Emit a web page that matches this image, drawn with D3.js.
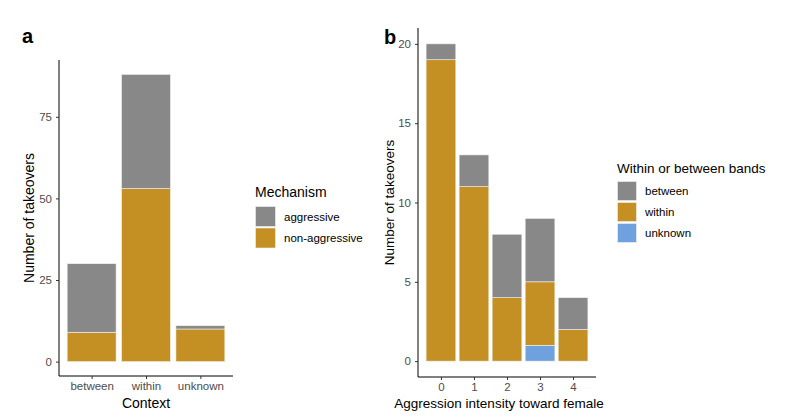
<!DOCTYPE html>
<html><head><meta charset="utf-8">
<script src="https://cdn.jsdelivr.net/npm/d3@7"></script>
<style>body{margin:0;background:#fff}svg{display:block;font-family:"Liberation Sans",Arial,sans-serif}</style>
</head><body><svg id="c" width="800" height="418"></svg>
<script>
// Panel a data
const contexts = ["between", "within", "unknown"];
const mechanisms = ["non-aggressive", "aggressive"]; // stack order bottom->top
const nonAggressive = [9, 53, 10];
const aggressive = [21, 35, 1];
const ticksA = [0, 25, 50, 75];

// Panel b data
const intensities = [0, 1, 2, 3, 4];
const bandTypes = ["unknown", "within", "between"]; // bottom->top
const unknownB = [0, 0, 0, 1, 0];
const withinB = [19, 11, 4, 4, 2];
const betweenB = [1, 2, 4, 4, 2];
const ticksB = [0, 5, 10, 15, 20];

const colors = {"aggressive":"#888888","non-aggressive":"#C49023","between":"#888888","within":"#C49023","unknown":"#6FA1DE"};
const svg = d3.select("#c");
const tickCol = "#4D4D4D";

function styleAxis(g){
  g.selectAll(".domain").attr("stroke","#000").attr("stroke-width",1);
  g.selectAll(".tick line").attr("stroke","#333").attr("stroke-width",1);
  g.selectAll(".tick text").attr("fill",tickCol).style("font-size","11.5px").style("font-family","Liberation Sans, Arial, sans-serif");
}

// ---------- Panel A ----------
(function(){
  const left=59, right=233, top=60, bottom=376;
  const rows = contexts.map((c,i)=>({ctx:c,"non-aggressive":nonAggressive[i],"aggressive":aggressive[i]}));
  const stack = d3.stack().keys(mechanisms)(rows);
  const maxV = d3.max(rows,d=>d["non-aggressive"]+d["aggressive"]);
  const y = d3.scaleLinear().domain([-0.05*maxV, maxV*1.05]).range([bottom, top]);
  const xc = d3.scaleLinear().domain([0.4, contexts.length+0.6]).range([left, right]);
  const bw = (xc(1)-xc(0))*0.9;
  const g = svg.append("g");
  stack.forEach(layer=>{
    g.selectAll(null).data(layer).enter().append("rect")
      .attr("x",(d,i)=>xc(i+1)-bw/2).attr("width",bw)
      .attr("y",d=>y(d[1])).attr("height",d=>y(d[0])-y(d[1]))
      .attr("fill",colors[layer.key]).attr("stroke","#f2f2f2").attr("stroke-width",0.6);
  });
  const ya = svg.append("g").attr("transform",`translate(${left},0)`)
    .call(d3.axisLeft(y).tickValues(ticksA).tickSize(3).tickPadding(4).tickSizeOuter(0));
  ya.select(".domain").attr("d",`M0,${top}V${bottom}`);
  styleAxis(ya);
  const xa = svg.append("g").attr("transform",`translate(0,${bottom})`)
    .call(d3.axisBottom(xc).tickValues([1,2,3]).tickFormat((d)=>contexts[d-1]).tickSize(3).tickPadding(3).tickSizeOuter(0));
  xa.select(".domain").attr("d",`M${left},0H${right}`);
  styleAxis(xa);
  svg.append("text").attr("transform",`translate(34,${(top+bottom)/2}) rotate(-90)`).attr("text-anchor","middle")
    .style("font-size","14px").text("Number of takeovers");
  svg.append("text").attr("x",(left+right)/2).attr("y",408).attr("text-anchor","middle").style("font-size","14px").text("Context");
  svg.append("text").attr("x",22).attr("y",43).style("font-size","20px").style("font-weight","bold").text("a");
  // legend
  const lg = svg.append("g").attr("transform","translate(255,197)");
  lg.append("text").attr("x",0).attr("y",0).style("font-size","14px").text("Mechanism");
  const legItems = ["aggressive","non-aggressive"];
  legItems.forEach((k,i)=>{
    lg.append("rect").attr("x",0.5).attr("y",9.5+i*21.5).attr("width",20).attr("height",20).attr("fill",colors[k]).attr("stroke","#f2f2f2").attr("stroke-width",0.6);
    lg.append("text").attr("x",29).attr("y",23.5+i*21.5).style("font-size","11.5px").text(k);
  });
})();

// ---------- Panel B ----------
(function(){
  const left=418, right=596, top=28, bottom=377;
  const rows = intensities.map((v,i)=>({k:v,unknown:unknownB[i],within:withinB[i],between:betweenB[i]}));
  const stack = d3.stack().keys(bandTypes)(rows);
  const maxV = d3.max(rows,d=>d.unknown+d.within+d.between);
  const y = d3.scaleLinear().domain([-0.05*maxV, maxV*1.05]).range([bottom, top]);
  const lo = d3.min(intensities)-0.45, hi = d3.max(intensities)+0.45, ex=(hi-lo)*0.05;
  const x = d3.scaleLinear().domain([lo-ex, hi+ex]).range([left, right]);
  const bw = (x(1)-x(0))*0.9;
  const g = svg.append("g");
  stack.forEach(layer=>{
    g.selectAll(null).data(layer.filter(d=>d[1]>d[0])).enter().append("rect")
      .attr("x",d=>x(d.data.k)-bw/2).attr("width",bw)
      .attr("y",d=>y(d[1])).attr("height",d=>y(d[0])-y(d[1]))
      .attr("fill",colors[layer.key]).attr("stroke","#f2f2f2").attr("stroke-width",0.6);
  });
  const ya = svg.append("g").attr("transform",`translate(${left},0)`)
    .call(d3.axisLeft(y).tickValues(ticksB).tickSize(3).tickPadding(4).tickSizeOuter(0));
  ya.select(".domain").attr("d",`M0,${top}V${bottom}`);
  styleAxis(ya);
  const xa = svg.append("g").attr("transform",`translate(0,${bottom})`)
    .call(d3.axisBottom(x).tickValues(intensities).tickFormat(d3.format("d")).tickSize(3).tickPadding(3).tickSizeOuter(0));
  xa.select(".domain").attr("d",`M${left},0H${right}`);
  styleAxis(xa);
  svg.append("text").attr("transform",`translate(394,${(top+bottom)/2}) rotate(-90)`).attr("text-anchor","middle")
    .style("font-size","13.5px").text("Number of takeovers");
  svg.append("text").attr("x",(left+right)/2-8).attr("y",408).attr("text-anchor","middle").style("font-size","13.5px").text("Aggression intensity toward female");
  svg.append("text").attr("x",384).attr("y",44).style("font-size","20px").style("font-weight","bold").text("b");
  const lg = svg.append("g").attr("transform","translate(617,173)");
  lg.append("text").attr("x",0).attr("y",0).style("font-size","13.5px").text("Within or between bands");
  ["between","within","unknown"].forEach((k,i)=>{
    lg.append("rect").attr("x",0.5).attr("y",8.5+i*21).attr("width",19).attr("height",19).attr("fill",colors[k]).attr("stroke","#f2f2f2").attr("stroke-width",0.6);
    lg.append("text").attr("x",28).attr("y",22+i*21).style("font-size","11.5px").text(k);
  });
})();
</script></body></html>
